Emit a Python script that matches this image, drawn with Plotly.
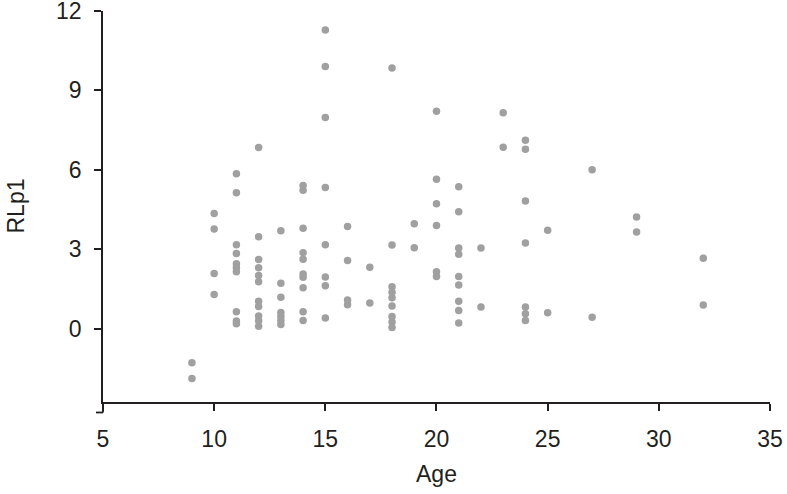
import plotly.graph_objects as go

# Data (Age vs RLp1)
age_groups = [9, 10, 11, 12, 13, 14, 15, 16, 17, 18, 19, 20, 21, 22, 23, 24, 25, 27, 29, 32]
rlp1_groups = [
    [-1.29, -1.88],
    [4.35, 3.77, 2.08, 1.29],
    [5.85, 5.13, 3.17, 2.84, 2.45, 2.30, 2.15, 0.64, 0.29, 0.19],
    [6.84, 3.47, 2.61, 2.30, 2.01, 1.77, 1.04, 0.84, 0.48, 0.30, 0.09],
    [3.70, 1.72, 1.19, 0.61, 0.46, 0.31, 0.16],
    [5.41, 5.23, 3.79, 2.87, 2.62, 2.07, 1.94, 1.55, 0.64, 0.31],
    [11.28, 9.90, 7.98, 5.33, 3.17, 1.95, 1.62, 0.40],
    [3.86, 2.58, 1.08, 0.90],
    [2.32, 0.97],
    [9.85, 3.16, 1.58, 1.38, 1.17, 0.86, 0.46, 0.25, 0.04],
    [3.96, 3.06],
    [8.21, 5.64, 4.72, 3.90, 2.15, 1.97],
    [5.36, 4.42, 3.05, 2.81, 1.97, 1.65, 1.04, 0.69, 0.21],
    [3.05, 0.82],
    [8.16, 6.85],
    [7.12, 6.78, 4.82, 3.24, 0.82, 0.56, 0.31],
    [3.72, 0.60],
    [6.00, 0.43],
    [4.22, 3.65],
    [2.66, 0.89],
]
x_ticks = [5, 10, 15, 20, 25, 30, 35]
y_ticks = [0, 3, 6, 9, 12]

ages = []
rlp1 = []
for a, vals in zip(age_groups, rlp1_groups):
    for v in vals:
        ages.append(a)
        rlp1.append(v)

W, H = 787, 494
ml, mr, mt, mb = 102.7, 16.5, 10.7, 91.5
ymin, ymax = -2.77, 12.0005
axis_color = "#231f20"
font_family = "Liberation Sans, Arial, sans-serif"

fig = go.Figure()
fig.add_trace(go.Scatter(
    x=ages, y=rlp1, mode="markers",
    marker=dict(size=7.5, color="#a0a0a0", line=dict(width=0)),
    cliponaxis=False, showlegend=False,
))

fig.update_layout(
    width=W, height=H,
    margin=dict(l=ml, r=mr, t=mt, b=mb, autoexpand=False),
    paper_bgcolor="white", plot_bgcolor="white",
    font=dict(family=font_family, size=23, color=axis_color),
    xaxis=dict(
        range=[5, 35.0005], tickvals=x_ticks, ticks="outside", ticklen=7,
        tickwidth=1.8, tickcolor=axis_color, showline=True, linewidth=1.8,
        linecolor=axis_color, showgrid=False, zeroline=False,
        ticklabelstandoff=8, automargin=False, ticklabeloverflow="allow",
    ),
    yaxis=dict(
        range=[ymin, ymax], tickvals=y_ticks, ticks="outside", ticklen=7,
        tickwidth=1.8, tickcolor=axis_color, showline=True, linewidth=1.8,
        linecolor=axis_color, showgrid=False, zeroline=False,
        ticklabelstandoff=8, automargin=False, ticklabeloverflow="allow",
    ),
)

# extension of the y axis below the x axis, with its bottom tick
plot_h = H - mt - mb
ext_px = 10.5
y_ext = -ext_px / plot_h
fig.add_shape(type="line", xref="paper", yref="paper", x0=0, x1=0, y0=0, y1=y_ext,
              line=dict(color=axis_color, width=1.8))
fig.add_shape(type="line", xref="paper", yref="paper",
              x0=-7 / (W - ml - mr), x1=0, y0=y_ext, y1=y_ext,
              line=dict(color=axis_color, width=1.8))

# axis titles
fig.add_annotation(text="Age", xref="paper", yref="paper", x=0.5, y=0,
                   yshift=-72, xanchor="center", yanchor="middle", showarrow=False,
                   font=dict(family=font_family, size=23, color=axis_color))
fig.add_annotation(text="RLp1", xref="paper", yref="paper", x=0, y=0.5,
                   xshift=-88, xanchor="center", yanchor="middle", textangle=-90,
                   showarrow=False,
                   font=dict(family=font_family, size=23, color=axis_color))

fig.write_html(
    "out.html",
    config={"displayModeBar": False},
    post_script="document.body.style.margin='0';document.body.style.overflow='hidden';",
)
